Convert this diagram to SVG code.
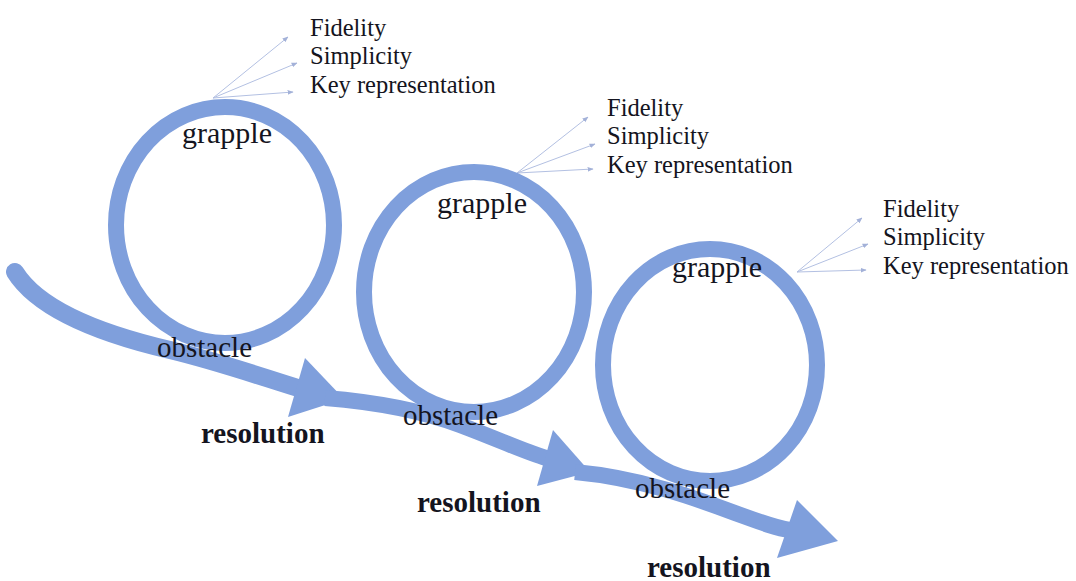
<svg xmlns="http://www.w3.org/2000/svg" width="1076" height="581" viewBox="0 0 1076 581">
  <defs>
    <marker id="tip" viewBox="0 0 10 10" refX="9" refY="5" markerWidth="6" markerHeight="6" orient="auto" markerUnits="userSpaceOnUse">
      <path d="M0,1 L10,5 L0,9 z" fill="#a3b1d8"/>
    </marker>
    <style>
      .band { fill: none; stroke: #7f9fdc; stroke-width: 18; stroke-linecap: round; }
      .ring { fill: none; stroke: #7f9fdc; stroke-width: 16; }
      .head { fill: #7f9fdc; }
      .fan { fill: none; stroke: #b3c0e2; stroke-width: 1; marker-end: url(#tip); }
      .lbl { font-family: "Liberation Serif", "Times New Roman", serif; fill: #141420; }
      .big { font-size: 30px; }
      .obs { font-size: 29px; }
      .res { font-size: 29px; font-weight: bold; }
      .item { font-size: 24.5px; }
    </style>
  </defs>
  <rect width="1076" height="581" fill="#ffffff"/>

  <!-- main ribbon with three arrowheads -->
  <g id="connectors">
    <path class="band" d="M15,272 C40,312 110,336 170,350 C220,362 265,378 298,388"/>
    <polygon class="head" points="305,358 344,399 288,417"/>
    <path class="band" style="stroke-linecap:butt;stroke-width:16" d="M325,398 C375,402 420,410 460,425 C500,440 525,452 546,458"/>
    <polygon class="head" points="553,430 590,472 537,486"/>
    <path class="band" style="stroke-linecap:butt;stroke-width:16" d="M575,472 C640,478 695,498 735,513 C760,522 775,528 790,530"/>
    <polygon class="head" points="797,500 838,541 777,558"/>

    <path class="fan" d="M213,98 L288,37"/>
    <path class="fan" d="M213,98 L297,63"/>
    <path class="fan" d="M213,98 L293,92"/>

    <path class="fan" d="M517,173 L588,117"/>
    <path class="fan" d="M517,173 L595,144"/>
    <path class="fan" d="M517,173 L593,169"/>

    <path class="fan" d="M797,272 L862,218"/>
    <path class="fan" d="M797,272 L868,244"/>
    <path class="fan" d="M797,272 L866,270"/>
  </g>

  <g id="loop1">
    <ellipse class="ring" cx="225" cy="225" rx="109" ry="118"/>
    <text class="lbl big" x="182" y="143">grapple</text>
    <text class="lbl obs" x="157" y="357">obstacle</text>
    <text class="lbl res" x="201" y="443">resolution</text>
  </g>

  <g id="loop2">
    <ellipse class="ring" cx="474" cy="292" rx="110" ry="120"/>
    <text class="lbl big" x="437" y="213">grapple</text>
    <text class="lbl obs" x="403" y="425">obstacle</text>
    <text class="lbl res" x="417" y="512">resolution</text>
  </g>

  <g id="loop3">
    <ellipse class="ring" cx="710" cy="365" rx="107" ry="116"/>
    <text class="lbl big" x="672" y="277">grapple</text>
    <text class="lbl obs" x="635" y="498">obstacle</text>
    <text class="lbl res" x="647" y="577">resolution</text>
  </g>

  <g id="qualities1">
    <text class="lbl item" x="310" y="36">Fidelity</text>
    <text class="lbl item" x="310" y="64">Simplicity</text>
    <text class="lbl item" x="310" y="93">Key representation</text>
  </g>
  <g id="qualities2">
    <text class="lbl item" x="607" y="116">Fidelity</text>
    <text class="lbl item" x="607" y="144">Simplicity</text>
    <text class="lbl item" x="607" y="173">Key representation</text>
  </g>
  <g id="qualities3">
    <text class="lbl item" x="883" y="217">Fidelity</text>
    <text class="lbl item" x="883" y="245">Simplicity</text>
    <text class="lbl item" x="883" y="274">Key representation</text>
  </g>
</svg>
